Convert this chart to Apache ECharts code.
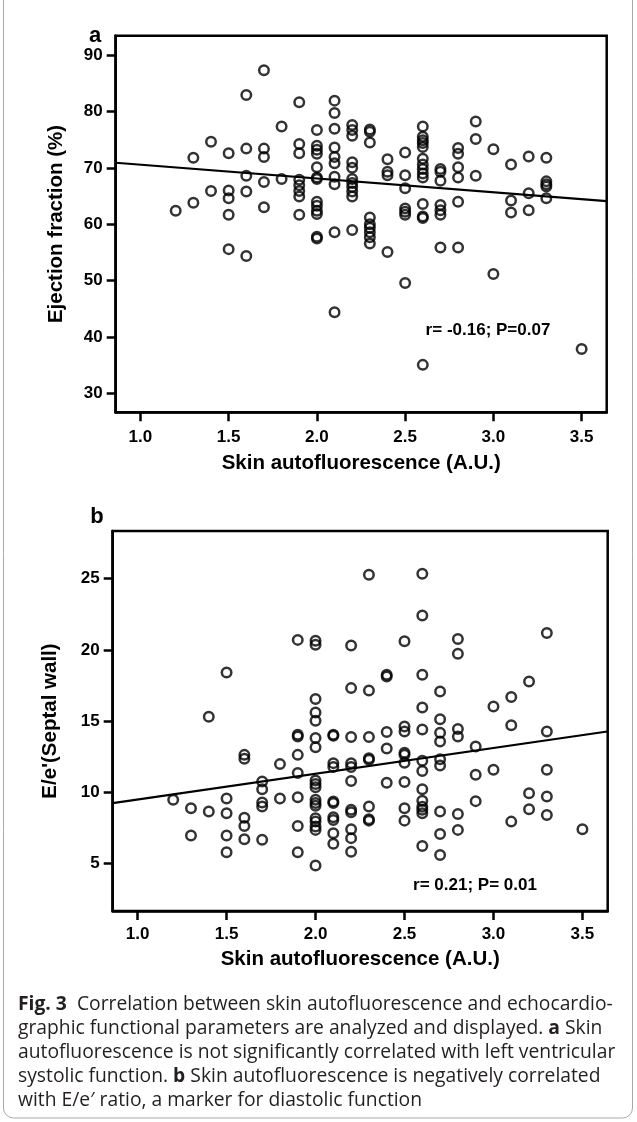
<!DOCTYPE html>
<html>
<head>
<meta charset="utf-8">
<script src="https://cdn.jsdelivr.net/npm/echarts@6/dist/echarts.min.js"></script>
<style>
html,body{margin:0;padding:0;background:#fff;}
#chart{width:637px;height:1122px;}
</style>
</head>
<body>
<div id="chart"></div>
<script>
// ---------- Panel a: skin autofluorescence vs ejection fraction ----------
const afA = [
  1.2,
  1.3,1.3,
  1.4,1.4,
  1.5,1.5,1.5,1.5,1.5,
  1.6,1.6,1.6,1.6,1.6,
  1.7,1.7,1.7,1.7,1.7,
  1.8,1.8,
  1.9,1.9,1.9,1.9,1.9,1.9,1.9,1.9,
  2.0,2.0,2.0,2.0,2.0,2.0,2.0,2.0,2.0,2.0,2.0,2.0,2.0,
  2.1,2.1,2.1,2.1,2.1,2.1,2.1,2.1,2.1,2.1,
  2.2,2.2,2.2,2.2,2.2,2.2,2.2,2.2,2.2,2.2,2.2,
  2.3,2.3,2.3,2.3,2.3,2.3,2.3,2.3,2.3,
  2.4,2.4,2.4,2.4,
  2.5,2.5,2.5,2.5,2.5,2.5,2.5,
  2.6,2.6,2.6,2.6,2.6,2.6,2.6,2.6,2.6,2.6,2.6,2.6,2.6,2.6,
  2.7,2.7,2.7,2.7,2.7,2.7,2.7,
  2.8,2.8,2.8,2.8,2.8,2.8,
  2.9,2.9,2.9,
  3.0,3.0,
  3.1,3.1,3.1,
  3.2,3.2,3.2,
  3.3,3.3,3.3,3.3,3.3,
  3.5
];
const efA = [
  62.4,
  71.8,63.8,
  74.6,65.9,
  72.6,66.0,64.6,61.7,55.6,
  82.9,73.4,68.6,65.8,54.4,
  87.3,73.4,71.9,67.5,63.0,
  77.3,68.0,
  81.6,74.2,72.6,67.9,66.9,65.9,64.9,61.7,
  76.7,73.9,73.2,72.5,70.1,68.3,68.0,64.0,63.3,62.4,61.8,57.8,57.5,
  81.9,79.7,76.9,73.6,71.9,70.8,68.4,67.1,58.6,44.4,
  77.6,76.7,75.7,71.0,70.0,68.0,67.3,66.6,65.8,64.9,59.0,
  76.8,76.4,74.5,61.2,60.0,59.4,58.6,57.7,56.6,
  71.5,69.3,68.7,55.1,
  72.7,68.7,66.4,62.8,62.2,61.7,49.6,
  77.3,75.5,74.9,74.4,73.7,71.6,70.6,69.8,69.0,68.3,63.6,61.4,61.1,35.1,
  69.8,69.3,67.7,63.4,62.5,61.7,55.9,
  73.5,72.5,70.1,68.3,64.0,55.9,
  78.2,75.1,68.6,
  73.3,51.2,
  70.6,64.2,62.1,
  72.0,65.5,62.5,
  71.8,67.6,67.1,66.7,64.6,
  37.9
];
const fitA = [[0.86, 70.9], [3.642, 64.1]];

// ---------- Panel b: skin autofluorescence vs E/e' ----------
const afB = [
  1.2,
  1.3,1.3,
  1.4,1.4,
  1.5,1.5,1.5,1.5,1.5,
  1.6,1.6,1.6,1.6,1.6,
  1.7,1.7,1.7,1.7,1.7,
  1.8,1.8,
  1.9,1.9,1.9,1.9,1.9,1.9,1.9,1.9,
  2.0,2.0,2.0,2.0,2.0,2.0,2.0,2.0,2.0,2.0,2.0,2.0,2.0,2.0,2.0,2.0,2.0,2.0,
  2.1,2.1,2.1,2.1,2.1,2.1,2.1,2.1,2.1,2.1,
  2.2,2.2,2.2,2.2,2.2,2.2,2.2,2.2,2.2,2.2,2.2,
  2.3,2.3,2.3,2.3,2.3,2.3,2.3,2.3,
  2.4,2.4,2.4,2.4,2.4,
  2.5,2.5,2.5,2.5,2.5,2.5,2.5,2.5,2.5,
  2.6,2.6,2.6,2.6,2.6,2.6,2.6,2.6,2.6,2.6,2.6,2.6,2.6,
  2.7,2.7,2.7,2.7,2.7,2.7,2.7,2.7,2.7,
  2.8,2.8,2.8,2.8,2.8,2.8,
  2.9,2.9,2.9,
  3.0,3.0,
  3.1,3.1,3.1,
  3.2,3.2,3.2,
  3.3,3.3,3.3,3.3,3.3,
  3.5
];
const eeB = [
  9.46,
  8.87,6.95,
  15.3,8.64,
  18.4,9.55,8.52,6.95,5.78,
  12.62,12.34,8.21,7.63,6.69,
  10.75,10.21,9.27,8.99,6.65,
  11.97,9.55,
  20.7,14.03,13.91,12.62,11.34,9.65,7.63,5.78,
  20.64,20.36,16.54,15.6,15.01,13.8,13.16,10.82,10.58,10.35,9.46,9.23,9.04,8.17,7.93,7.58,7.35,4.84,
  14.03,13.96,12.04,11.76,9.34,9.23,8.24,8.05,7.12,6.37,
  20.31,17.31,13.87,12.04,11.76,10.79,8.76,8.59,7.4,6.77,5.82,
  25.28,17.15,13.87,12.39,12.27,8.99,8.1,8.0,
  18.25,18.13,14.22,13.07,10.66,
  20.6,14.61,14.26,12.77,12.62,12.06,10.72,8.87,8.0,
  25.35,22.42,18.25,15.95,14.4,12.2,11.48,10.21,9.4,8.97,8.76,8.52,6.22,
  17.07,15.13,14.17,13.56,12.32,11.87,8.64,7.06,5.59,
  20.76,19.73,14.43,13.91,8.46,7.35,
  13.21,11.22,9.37,
  16.02,11.57,
  16.68,14.7,7.93,
  17.78,9.93,8.8,
  21.18,14.26,11.57,9.69,8.4,
  7.4
];
const fitB = [[0.86, 9.23], [3.64, 14.26]];

// ---------- Tick labels ----------
const xTicks = [1.0, 1.5, 2.0, 2.5, 3.0, 3.5];
const yTicksA = [30, 40, 50, 60, 70, 80, 90];
const yTicksB = [5, 10, 15, 20, 25];

const xTitle = 'Skin autofluorescence (A.U.)';
const yTitleA = 'Ejection fraction (%)';
const yTitleB = "E/e'(Septal wall)";
const statA = 'r= -0.16; P=0.07';
const statB = 'r= 0.21; P= 0.01';

const FONT = '"Liberation Sans", Arial, sans-serif';
const CAP_FONT = '"Open Sans", sans-serif';
const CAP_SIZE = 19.3;

function pairs(xs, ys) { return xs.map((x, i) => [x, ys[i]]); }

function xAxisCfg(gridIndex, nameGap, margin) {
  return {
    type: 'value', gridIndex, min: 0.86, max: 3.642,
    axisLine: { show: true, onZero: false, lineStyle: { color: '#000', width: 2.5 } },
    axisTick: { show: true, inside: false, length: 9, customValues: xTicks, lineStyle: { color: '#000', width: 2.5 } },
    axisLabel: { customValues: xTicks, formatter: v => Number(v).toFixed(1), color: '#000', fontWeight: 'bold', fontSize: 17, fontFamily: FONT, margin },
    splitLine: { show: false },
    name: xTitle, nameLocation: 'middle', nameGap,
    nameTextStyle: { color: '#000', fontWeight: 'bold', fontSize: 20.5, fontFamily: FONT }
  };
}
function yAxisCfg(gridIndex, min, max, ticks, name, nameGap) {
  return {
    type: 'value', gridIndex, min, max,
    axisLine: { show: true, onZero: false, lineStyle: { color: '#000', width: 2.5 } },
    axisTick: { show: true, inside: false, length: 9, customValues: ticks, lineStyle: { color: '#000', width: 2.5 } },
    axisLabel: { customValues: ticks, color: '#000', fontWeight: 'bold', fontSize: 17, fontFamily: FONT, margin: 13 },
    splitLine: { show: false },
    name, nameLocation: 'middle', nameGap, nameRotate: 90,
    nameTextStyle: { color: '#000', fontWeight: 'bold', fontSize: 20.5, fontFamily: FONT }
  };
}
const scatterStyle = { color: 'rgba(0,0,0,0)', borderColor: '#000', borderWidth: 2.5 };
const capRich = { b: { fontWeight: 'bold', fontSize: CAP_SIZE, fontFamily: CAP_FONT, fill: '#231f20' } };
function capLine(y, text) {
  return { type: 'text', x: 18, y, style: { text, fill: '#231f20', font: CAP_SIZE + 'px ' + CAP_FONT, verticalAlign: 'middle', rich: capRich } };
}

const chart = echarts.init(document.getElementById('chart'), null, { renderer: 'canvas' });
chart.setOption({
  backgroundColor: '#fff',
  animation: false,
  grid: [
    { left: 115.7, top: 35.7, width: 491, height: 376.6, show: true, borderColor: '#000', borderWidth: 2.5, backgroundColor: 'transparent' },
    { left: 112.7, top: 531, width: 495, height: 380, show: true, borderColor: '#000', borderWidth: 2.5, backgroundColor: 'transparent' }
  ],
  xAxis: [ xAxisCfg(0, 41, 17), xAxisCfg(1, 38, 15) ],
  yAxis: [
    yAxisCfg(0, 26.7, 93.4, yTicksA, yTitleA, 49),
    yAxisCfg(1, 1.65, 28.35, yTicksB, yTitleB, 52)
  ],
  series: [
    { type: 'scatter', xAxisIndex: 0, yAxisIndex: 0, data: pairs(afA, efA), symbol: 'circle', symbolSize: 9.5, itemStyle: scatterStyle, z: 3 },
    { type: 'line', xAxisIndex: 0, yAxisIndex: 0, data: fitA, showSymbol: false, symbol: 'none', lineStyle: { color: '#000', width: 2.2 }, z: 2 },
    { type: 'scatter', xAxisIndex: 1, yAxisIndex: 1, data: pairs(afB, eeB), symbol: 'circle', symbolSize: 9.5, itemStyle: scatterStyle, z: 3 },
    { type: 'line', xAxisIndex: 1, yAxisIndex: 1, data: fitB, showSymbol: false, symbol: 'none', lineStyle: { color: '#000', width: 2.2 }, z: 2 }
  ],
  graphic: [
    { type: 'rect', shape: { x: 3.5, y: -20, width: 629, height: 1138, r: 10 }, style: { fill: 'none', stroke: '#aaa', lineWidth: 1 }, silent: true, z: -1 },
    { type: 'text', x: 95, y: 36, style: { text: 'a', fill: '#000', font: 'bold 22px ' + FONT, align: 'center', verticalAlign: 'middle' } },
    { type: 'text', x: 97, y: 517, style: { text: 'b', fill: '#000', font: 'bold 22px ' + FONT, align: 'center', verticalAlign: 'middle' } },
    { type: 'text', x: 488, y: 330, style: { text: statA, fill: '#000', font: 'bold 17px ' + FONT, align: 'center', verticalAlign: 'middle' } },
    { type: 'text', x: 475, y: 885, style: { text: statB, fill: '#000', font: 'bold 17px ' + FONT, align: 'center', verticalAlign: 'middle' } },
    capLine(1005, '{b|Fig. 3}  Correlation between skin autofluorescence and echocardio-'),
    capLine(1029, 'graphic functional parameters are analyzed and displayed. {b|a} Skin'),
    capLine(1053, 'autofluorescence is not significantly correlated with left ventricular'),
    capLine(1077, 'systolic function. {b|b} Skin autofluorescence is negatively correlated'),
    capLine(1101, 'with E/e\u2032 ratio, a marker for diastolic function')
  ]
});
</script>
</body>
</html>
